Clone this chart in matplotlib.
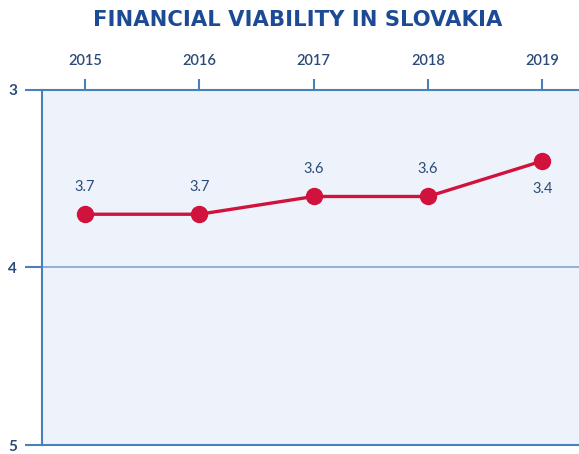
import numpy as np
import matplotlib.pyplot as plt
import matplotlib

matplotlib.rcParams['font.family'] = ['Lato', 'DejaVu Sans']

years = np.array([2015, 2016, 2017, 2018, 2019])
scores = np.array([3.7, 3.7, 3.6, 3.6, 3.4])
labels = ['3.7', '3.7', '3.6', '3.6', '3.4']
label_above = [True, True, True, True, False]

axis_blue = '#4a80b8'
text_blue = '#2b4a78'
title_blue = '#1c4a94'
red = '#d0123c'

fig = plt.figure(figsize=(5.79, 4.54), dpi=100, facecolor='white')
ax = fig.add_axes([0.0725, 0.0198, 0.9275, 0.782])
ax.set_facecolor('#eef3fb')

ax.set_xlim(2014.624, 2019.32)
ax.set_ylim(5, 3)

ax.axhline(4, color='#7fa6d0', linewidth=1.2, zorder=1)

ax.plot(years, scores, color=red, linewidth=2.4, marker='o', markersize=11.5, zorder=3)
for x, y, t, up in zip(years, scores, labels, label_above):
    dy = -0.155 if up else 0.16
    ax.text(x, y + dy, t, ha='center', va='center', fontsize=10.5, color=text_blue)

ax.spines['right'].set_visible(False)
for side in ['left', 'top', 'bottom']:
    ax.spines[side].set_color(axis_blue)
    ax.spines[side].set_linewidth(1.5)

ax.xaxis.tick_top()
ax.set_xticks(years)
ax.set_xticklabels([str(y) for y in years])
ax.tick_params(axis='x', direction='out', length=8, width=1.5, color=axis_blue,
               labelcolor=text_blue, labelsize=10.5, pad=8)
ax.set_yticks([3, 4, 5])
ax.set_yticklabels(['3', '4', '5'])
ax.tick_params(axis='y', direction='out', length=12, width=1.5, color=axis_blue,
               labelcolor=text_blue, labelsize=11, pad=6)
for lab in ax.get_yticklabels():
    lab.set_fontweight('bold')
for lab in ax.get_xticklabels():
    lab.set_fontweight('semibold')

fig.text(0.515, 0.956, 'FINANCIAL VIABILITY IN SLOVAKIA', ha='center', va='center',
         fontsize=15.2, fontweight='bold', color=title_blue, family='DejaVu Sans')

fig.savefig('out.png', dpi=100, facecolor='white')
